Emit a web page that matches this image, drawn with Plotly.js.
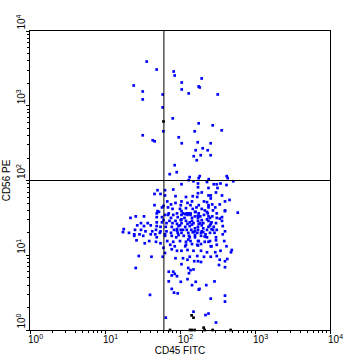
<!DOCTYPE html>
<html>
<head>
<meta charset="utf-8">
<script src="https://cdn.plot.ly/plotly-3.0.1.min.js"></script>
<style>html,body{margin:0;padding:0;background:#fff;}#chart{width:360px;height:361px;}</style>
</head>
<body>
<div id="chart"></div>
<script>
// Event values in decades (log10 of fluorescence intensity)
// Upper quadrants (CD56 bright)
const cd45Upper = [1.556,1.689,1.916,1.929,2.289,1.383,2.023,2.249,2.263,1.503,2.023,1.769,2.116,2.503,1.503,1.769,1.903,2.249,2.436,1.778,2.196,2.556,1.503,1.983,1.636,1.662,2.023,2.236,2.409,2.303,2.209,2.369,2.276,2.409,2.183,2.223,1.929,1.956,1.863,2.129,2.263,2.249,2.383,2.623,2.636,2.116];
const cd56Upper = [3.591,3.485,3.458,3.405,3.365,3.271,3.311,3.258,3.245,3.191,3.218,3.151,3.165,3.151,3.085,2.978,2.831,2.765,2.738,2.658,2.658,2.671,2.605,2.578,2.538,2.525,2.498,2.511,2.498,2.431,2.405,2.405,2.338,2.338,2.325,2.271,2.205,2.111,2.085,2.045,2.058,2.031,2.018,2.058,2.031,2.005];

// Lower quadrants (CD56 dim / negative)
const cd45Lower = [
 2.02,2.18,2.24,2.36,2.45,2.49,2.54,2.62,2.71,1.91,2.24,2.38,2.50,1.70,1.80,2.24,2.29,2.48,2.38,2.41,2.56,1.66,1.74,1.80,1.94,2.08,2.17,2.23,2.41,
 2.66,2.60,1.83,2.02,2.16,2.32,2.36,2.10,1.88,1.94,1.66,1.78,1.76,2.01,2.14,2.25,2.38,2.43,2.53,2.22,2.38,2.47,2.08,1.84,1.90,2.00,2.17,2.29,2.33,2.44,2.60,1.70,1.72,1.69,1.85,1.96,2.04,2.09,2.12,2.14,2.21,2.25,2.37,2.77,2.49,2.60,
 1.41,1.52,1.80,1.84,1.91,2.02,2.10,2.14,2.20,2.27,2.32,2.43,1.34,1.69,1.76,1.88,1.97,2.06,2.16,2.24,2.36,2.40,2.49,2.56,1.78,1.86,1.94,2.01,2.08,2.16,2.24,2.29,2.38,2.56,1.48,1.57,1.69,1.76,1.82,1.90,1.96,2.02,2.10,2.18,2.25,2.31,2.41,2.48,
 1.43,1.52,1.61,1.69,1.74,1.81,1.89,1.98,2.07,2.13,2.20,2.24,2.31,2.38,2.45,2.57,
 1.25,1.40,1.48,1.54,1.63,1.68,1.74,1.82,1.92,1.96,2.01,2.09,2.15,2.20,2.24,2.29,2.36,2.42,2.49,2.60,
 1.24,1.32,1.39,1.46,1.61,1.67,1.73,1.80,1.88,1.97,2.02,2.11,2.17,2.23,2.28,2.34,2.40,2.46,2.57,
 1.39,1.51,1.69,1.80,1.89,1.95,2.05,2.12,2.20,2.28,2.36,2.48,
 1.42,1.59,1.53,1.68,1.74,1.83,1.91,2.00,2.08,2.14,2.25,2.33,2.40,2.48,2.59,
 1.87,1.93,2.08,2.16,2.23,2.28,2.41,2.49,2.62,
 1.78,1.89,1.96,2.02,2.10,2.18,2.28,2.36,2.47,2.54,2.69,2.68,
 1.45,1.62,1.77,1.80,1.94,2.04,2.13,2.23,2.32,2.41,2.49,
 2.10,2.19,2.24,2.28,2.53,2.60,2.63,
 2.02,2.52,2.60,1.41,
 2.11,2.14,2.18,2.12,1.85,1.91,1.93,1.89,1.96,2.10,
 1.85,2.01,2.21,2.46,2.16,2.35,1.89,2.26,2.25,1.60,1.92,1.97,2.60,2.41,2.60,2.18,2.34,2.38,1.81,2.48
];
const cd56Lower = [
 1.95,1.99,1.96,1.98,1.95,1.95,1.96,1.94,1.99,1.88,1.91,1.90,1.90,1.87,1.87,1.83,1.84,1.84,1.80,1.80,1.80,1.82,1.82,1.80,1.79,1.78,1.79,1.78,1.76,
 1.74,1.72,1.72,1.72,1.72,1.72,1.71,1.70,1.68,1.70,1.67,1.66,1.64,1.67,1.67,1.67,1.67,1.68,1.68,1.64,1.64,1.64,1.63,1.64,1.62,1.62,1.62,1.62,1.60,1.60,1.60,1.59,1.58,1.56,1.56,1.56,1.56,1.56,1.56,1.56,1.58,1.56,1.56,1.57,1.56,1.59,
 1.52,1.52,1.54,1.54,1.54,1.54,1.54,1.54,1.52,1.52,1.54,1.52,1.50,1.51,1.51,1.50,1.51,1.50,1.50,1.50,1.48,1.50,1.50,1.51,1.47,1.46,1.46,1.47,1.46,1.46,1.46,1.47,1.46,1.46,1.43,1.43,1.44,1.44,1.43,1.43,1.42,1.43,1.42,1.43,1.42,1.43,1.42,1.43,
 1.40,1.39,1.40,1.39,1.38,1.38,1.38,1.39,1.38,1.39,1.36,1.38,1.36,1.38,1.38,1.39,
 1.35,1.34,1.34,1.32,1.32,1.34,1.32,1.32,1.34,1.35,1.34,1.34,1.34,1.32,1.34,1.32,1.34,1.35,1.34,1.32,
 1.31,1.30,1.28,1.28,1.28,1.28,1.30,1.28,1.30,1.30,1.30,1.30,1.31,1.30,1.30,1.28,1.30,1.30,1.28,
 1.26,1.26,1.24,1.26,1.26,1.24,1.26,1.26,1.24,1.26,1.24,1.24,
 1.20,1.19,1.16,1.18,1.16,1.19,1.18,1.19,1.18,1.19,1.19,1.18,1.19,1.20,1.19,
 1.14,1.12,1.14,1.15,1.14,1.15,1.12,1.14,1.12,
 1.10,1.08,1.06,1.06,1.07,1.06,1.06,1.04,1.04,1.06,1.07,1.04,
 0.99,0.98,0.98,1.03,0.96,0.96,0.98,0.99,0.98,0.98,0.99,
 0.94,0.92,0.92,0.91,0.94,0.92,0.95,
 0.88,0.87,0.84,0.83,
 0.83,0.80,0.81,0.76,0.78,0.78,0.75,0.73,0.72,0.68,
 0.65,0.645,0.645,0.65,0.60,0.60,0.55,0.55,0.54,0.47,0.50,0.49,0.46,0.42,0.38,0.245,0.20,0.22,0.165,0.10
];

// Densest core of the lymphocyte cluster
const cd45Core = [2.02,2.20,2.36,2.07,2.24,2.38,2.02,2.13,2.27,2.42,2.00,2.16,2.29,2.40,2.04,2.18,2.31,2.44,1.98,2.13,2.20,2.33,2.11,2.24,2.38,2.07,2.24,2.42,1.96,2.53];
const cd56Core = [1.59,1.58,1.58,1.55,1.53,1.52,1.48,1.44,1.43,1.44,1.40,1.41,1.40,1.40,1.34,1.31,1.31,1.34,1.27,1.24,1.27,1.25,1.21,1.19,1.18,1.12,1.13,1.12,1.33,1.49];

// Events drawn in black (off-gate / on-axis)
const cd45Other = [1.78,2.155,2.18,2.315,1.867,2.133,2.156,2.195,2.329,2.435,2.675];
const cd56Other = [2.79,0.196,0.165,0.031,0,0,0,0,0,0,0];

// Quadrant gates (intensity units)
const gateCD45 = 61;
const gateCD56 = 100;
const axisMin = 1, axisMax = 10000;

const tickVals = [1, 10, 100, 1000, 10000];
const tickText = ['10<sup>0</sup>','10<sup>1</sup>','10<sup>2</sup>','10<sup>3</sup>','10<sup>4</sup>'];

const toLin = a => a.map(v => Math.pow(10, v));

const traces = [
  {type:'scatter', mode:'markers',
   x: toLin(cd45Upper.concat(cd45Lower, cd45Core)), y: toLin(cd56Upper.concat(cd56Lower, cd56Core)),
   marker:{symbol:'square', size:2.7, color:'#0000ff', line:{width:0}}, cliponaxis:false, hoverinfo:'skip'},
  {type:'scatter', mode:'markers', x: toLin(cd45Other), y: toLin(cd56Other),
   marker:{symbol:'square', size:2.7, color:'#000000', line:{width:0}}, cliponaxis:false, hoverinfo:'skip'},
  {type:'scatter', mode:'lines', x:[gateCD45, gateCD45], y:[axisMin, axisMax], line:{color:'#000', width:1}, hoverinfo:'skip'},
  {type:'scatter', mode:'lines', x:[axisMin, axisMax], y:[gateCD56, gateCD56], line:{color:'#000', width:1}, hoverinfo:'skip'}
];

const axisCommon = {
  type:'log', range:[0,4], tickmode:'array', tickvals:tickVals, ticktext:tickText,
  showgrid:false, zeroline:false, showline:true, linecolor:'#000', linewidth:1, mirror:true,
  ticks:'outside', ticklen:3, tickcolor:'#000', tickwidth:1,
  minor:{tickmode:'linear', dtick:'D1', ticks:'outside', ticklen:2, tickcolor:'#000', tickwidth:1, showgrid:false},
  tickfont:{family:'Liberation Sans, Arial, sans-serif', size:10, color:'#000'},
  automargin:false, fixedrange:true
};

const layout = {
  width:360, height:361,
  margin:{l:30, r:30, t:31, b:31, pad:0},
  paper_bgcolor:'#fff', plot_bgcolor:'#fff',
  showlegend:false,
  font:{family:'Liberation Sans, Arial, sans-serif', size:10, color:'#000'},
  xaxis: Object.assign({}, axisCommon, {
    ticklabelposition:'outside right', ticklabelshift:-3,
    title:{text:'CD45 FITC', standoff:2, font:{size:10, color:'#000'}}
  }),
  yaxis: Object.assign({}, axisCommon, {
    tickangle:-90, ticklabelposition:'outside top',
    title:{text:'CD56 PE', standoff:2, font:{size:10, color:'#000'}}
  })
};

Plotly.newPlot('chart', traces, layout, {staticPlot:true, displayModeBar:false});
</script>
</body>
</html>
